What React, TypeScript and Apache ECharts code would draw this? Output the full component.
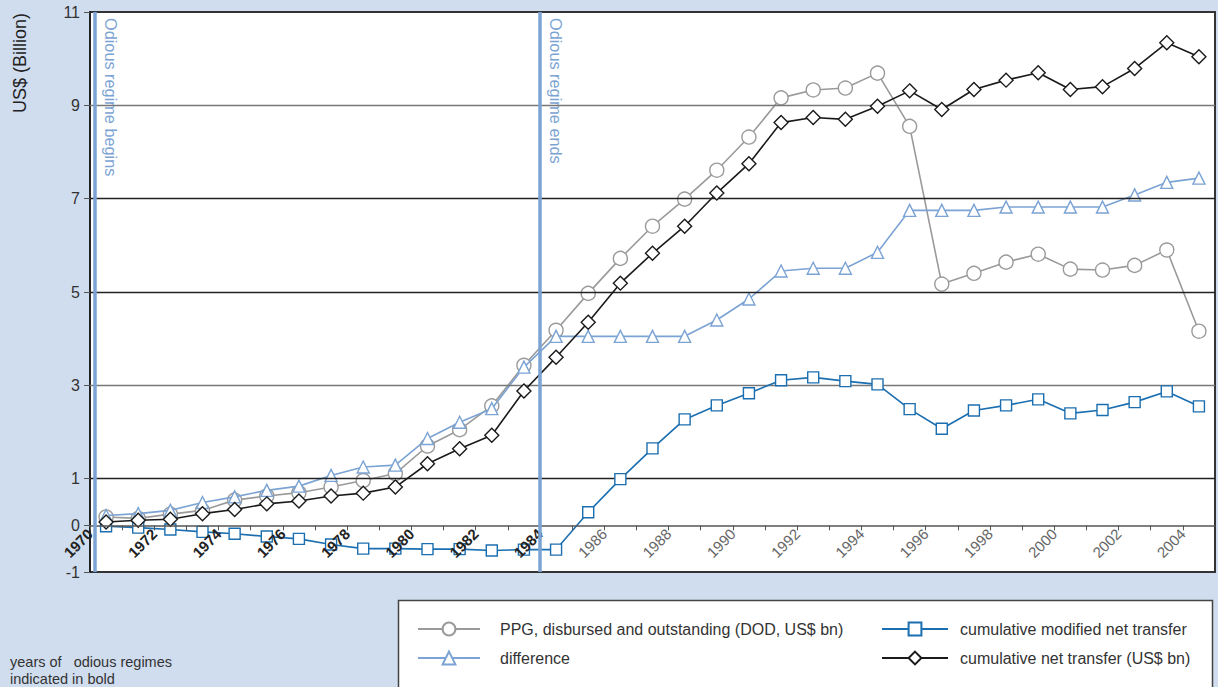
import React, { useEffect, useRef } from "react";
import * as echarts from "echarts";

const years = [1970, 1971, 1972, 1973, 1974, 1975, 1976, 1977, 1978, 1979, 1980, 1981, 1982, 1983, 1984, 1985, 1986, 1987, 1988, 1989, 1990, 1991, 1992, 1993, 1994, 1995, 1996, 1997, 1998, 1999, 2000, 2001, 2002, 2003, 2004];

const ppg = [0.18, 0.15, 0.24, 0.32, 0.54, 0.63, 0.70, 0.82, 0.96, 1.11, 1.70, 2.05, 2.56, 3.43, 4.18, 4.97, 5.72, 6.41, 6.99, 7.61, 8.32, 9.16, 9.33, 9.37, 9.69, 8.55, 5.17, 5.40, 5.64, 5.81, 5.49, 5.47, 5.57, 5.90, 4.16];

const difference = [0.21, 0.25, 0.32, 0.49, 0.61, 0.75, 0.84, 1.07, 1.25, 1.29, 1.86, 2.21, 2.50, 3.39, 4.05, 4.05, 4.05, 4.05, 4.05, 4.40, 4.85, 5.45, 5.51, 5.51, 5.85, 6.75, 6.75, 6.75, 6.82, 6.82, 6.82, 6.82, 7.08, 7.35, 7.44];

const modifiedNet = [-0.02, -0.05, -0.09, -0.14, -0.18, -0.24, -0.29, -0.41, -0.50, -0.50, -0.51, -0.51, -0.54, -0.52, -0.52, 0.28, 0.99, 1.65, 2.27, 2.57, 2.83, 3.11, 3.17, 3.09, 3.02, 2.49, 2.07, 2.46, 2.57, 2.70, 2.40, 2.47, 2.64, 2.87, 2.55];

const cumulativeNet = [0.07, 0.11, 0.13, 0.25, 0.34, 0.46, 0.52, 0.63, 0.69, 0.82, 1.32, 1.64, 1.93, 2.88, 3.60, 4.35, 5.19, 5.83, 6.41, 7.12, 7.75, 8.63, 8.74, 8.70, 8.98, 9.31, 8.91, 9.34, 9.54, 9.70, 9.34, 9.40, 9.79, 10.34, 10.04];

const yTickValues = [-1, 0, 1, 3, 5, 7, 9, 11];
const gridLineValues = [1, 3, 5, 7, 9];
const gridLineColors = ["#222", "#777", "#222", "#222", "#777"];
const regimeStart = 1970.15;
const regimeEnd = 1984;
const lastBoldYear = 1984;

const names = {
  ppg: "PPG, disbursed and outstanding (DOD, US$ bn)",
  diff: "difference",
  mod: "cumulative modified net transfer",
  net: "cumulative net transfer (US$ bn)",
};

const FONT = "'Liberation Sans', Arial, Helvetica, sans-serif";

export default function App() {
  const ref = useRef<HTMLDivElement>(null);
  useEffect(() => {
    if (!ref.current) return;
    const chart = echarts.init(ref.current, null, { renderer: "svg" });
    const pts = (arr: number[]) => years.map((y, i) => [y + 0.5, arr[i]]);
    const lineSeries = (name: string, arr: number[], color: string, symbol: string, size: number, z: number) => ({
      name,
      type: "line",
      data: pts(arr),
      symbol,
      symbolSize: size,
      showAllSymbol: true,
      z,
      lineStyle: { color, width: 1.6 },
      itemStyle: { color: "#fff", borderColor: color, borderWidth: 1.4 },
      emphasis: { disabled: true },
    });
    const gridTop = 12;
    const gridBottom = 115;
    const plotH = 687 - gridTop - gridBottom;
    const zeroOffset = -plotH / 12; // distance from y=-1 to y=0
    chart.setOption({
      animation: false,
      backgroundColor: "#d0ddee",
      textStyle: { fontFamily: FONT },
      grid: {
        left: 90,
        top: gridTop,
        right: 3,
        bottom: gridBottom,
        show: true,
        backgroundColor: "#fff",
        borderColor: "#333",
        borderWidth: 2,
      },
      legend: [
        {
          left: 412,
          top: 616,
          orient: "vertical",
          itemWidth: 62,
          itemHeight: 16,
          itemGap: 13,
          data: [names.ppg, names.diff],
          textStyle: { fontSize: 16, color: "#333", padding: [0, 0, 0, 15] },
          selectedMode: false,
        },
        {
          left: 876,
          top: 616,
          orient: "vertical",
          itemWidth: 66,
          itemHeight: 16,
          itemGap: 13,
          data: [names.mod, names.net],
          textStyle: { fontSize: 16, color: "#333", padding: [0, 0, 0, 7] },
          selectedMode: false,
        },
      ],
      xAxis: {
        type: "value",
        min: 1970,
        max: 2005,
        interval: 1,
        position: "bottom",
        offset: zeroOffset,
        z: 10,
        axisLine: { onZero: false, lineStyle: { color: "#555", width: 1.5 } },
        axisTick: { show: true, length: 5, lineStyle: { color: "#555" } },
        splitLine: { show: false },
        axisLabel: {
          rotate: 45,
          margin: 6,
          showMinLabel: true,
          showMaxLabel: false,
          formatter: (v: number) => {
            if (v % 2 !== 0 || v > 2004) return "";
            return v <= lastBoldYear ? `{b|${v}}` : `{n|${v}}`;
          },
          rich: {
            b: { fontWeight: "bold", color: "#222", fontSize: 15, fontFamily: FONT },
            n: { color: "#666", fontSize: 15, fontFamily: FONT },
          },
        },
      },
      yAxis: {
        type: "value",
        min: -1,
        max: 11,
        interval: 1,
        axisLine: { show: true, onZero: false, lineStyle: { color: "#222", width: 2 } },
        axisTick: { show: true, length: 6, customValues: yTickValues, lineStyle: { color: "#555" } },
        axisLabel: { customValues: yTickValues, fontSize: 16, color: "#333", margin: 10 },
        splitLine: { show: false },
      },
      series: [
        {
          name: "grid",
          type: "line",
          data: [],
          z: 1,
          silent: true,
          markLine: {
            silent: true,
            symbol: ["none", "none"],
            label: { show: false },
            animation: false,
            data: gridLineValues.map((v, i) => ({ yAxis: v, lineStyle: { color: gridLineColors[i], width: 1.3, type: "solid" } })),
          },
        },
        {
          name: "regime",
          type: "line",
          data: [],
          z: 20,
          silent: true,
          markLine: {
            silent: true,
            z: 20,
            symbol: ["none", "none"],
            label: { show: false },
            animation: false,
            data: [
              { xAxis: regimeStart, lineStyle: { color: "#7ba3d3", width: 3.5, type: "solid" } },
              { xAxis: regimeEnd, lineStyle: { color: "#7ba3d3", width: 3.5, type: "solid" } },
            ],
          },
        },
        lineSeries(names.ppg, ppg, "#9a9a9a", "circle", 14, 3),
        lineSeries(names.diff, difference, "#7ba3d3", "triangle", 12, 4),
        lineSeries(names.mod, modifiedNet, "#1b6fb0", "rect", 11, 5),
        lineSeries(names.net, cumulativeNet, "#1a1a1a", "diamond", 14, 6),
      ],
      graphic: [
        {
          type: "text",
          x: 20,
          y: 63,
          rotation: Math.PI / 2,
          style: { text: "US$ (Billion)", fontSize: 18, fill: "#222", fontFamily: FONT, align: "center", verticalAlign: "middle" },
        },
        {
          type: "text",
          x: 111,
          y: 18,
          rotation: -Math.PI / 2,
          style: { text: "Odious regime begins", fontSize: 16.3, fill: "#7ba3d3", fontFamily: FONT, align: "left", verticalAlign: "middle" },
        },
        {
          type: "text",
          x: 556,
          y: 18,
          rotation: -Math.PI / 2,
          style: { text: "Odious regime ends", fontSize: 16.3, fill: "#7ba3d3", fontFamily: FONT, align: "left", verticalAlign: "middle" },
        },
        {
          type: "rect",
          z: -1,
          shape: { x: 398.5, y: 600.5, width: 814, height: 100 },
          style: { fill: "#fff", stroke: "#444", lineWidth: 1.5 },
        },
        {
          type: "text",
          x: 10,
          y: 662,
          style: { text: "years of   odious regimes", fontSize: 14.5, fill: "#333", fontFamily: FONT, verticalAlign: "middle" },
        },
        {
          type: "text",
          x: 10,
          y: 679,
          style: { text: "indicated in bold", fontSize: 14.5, fill: "#333", fontFamily: FONT, verticalAlign: "middle" },
        },
      ],
    });
    return () => chart.dispose();
  }, []);
  return <div ref={ref} style={{ position: "fixed", left: 0, top: 0, width: 1218, height: 687 }} />;
}
